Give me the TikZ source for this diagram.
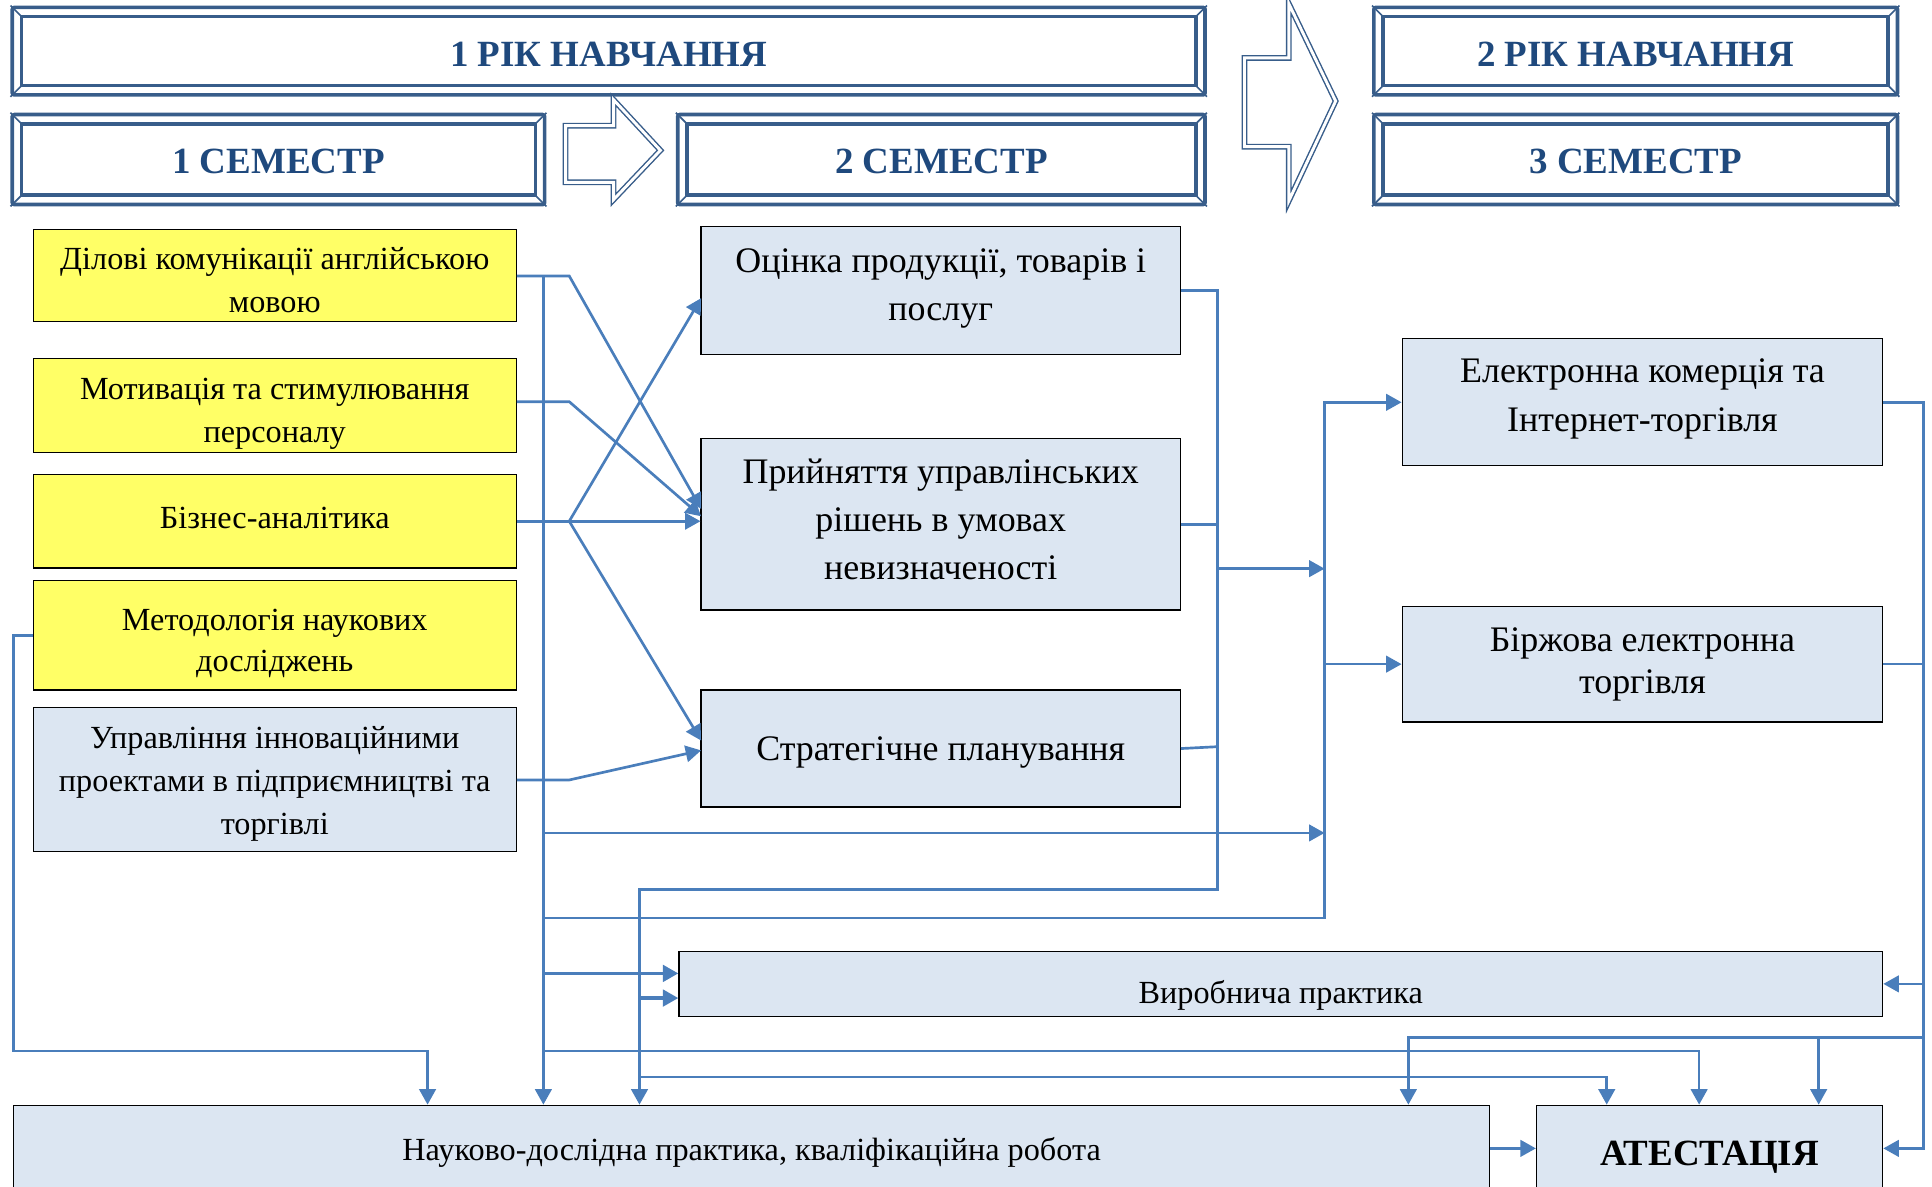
\documentclass[tikz,border=0pt]{standalone}
\usepackage{fontspec}
\setmainfont{Liberation Serif}
\usetikzlibrary{arrows.meta,calc}
\definecolor{hdrline}{RGB}{56,93,138}
\definecolor{hdrtext}{RGB}{31,73,125}
\definecolor{conncol}{RGB}{74,126,187}
\definecolor{yel}{RGB}{255,255,102}
\definecolor{lblue}{RGB}{220,230,242}
\newlength\myraise
% name, x1, y1, x2, y2, style, text, downward text offset (display px)
\newcommand\mkbox[8]{%
  \pgfmathsetlength{\myraise}{-0.6*(#8)*1pt}%
  \node[#6, minimum width={(#4-#2)*0.6pt}, minimum height={(#5-#3)*0.6pt}] (#1) at ({(#2+#4)/2},{(#3+#5)/2})
    {\raisebox{\myraise}[\height][\depth]{\begin{tabular}{@{}c@{}}#7\end{tabular}}};}
\tikzset{
  x=0.6pt, y=-0.6pt,
  hdr/.style={draw=hdrline, line width=1.8pt, text=hdrtext, font=\fontsize{18}{20}\selectfont\bfseries, inner sep=0pt, rounded corners=1pt},
  ybox/.style={draw=black, line width=0.6pt, fill=yel, inner sep=0pt, font=\fontsize{15.7}{21}\selectfont},
  bbox/.style={ybox, fill=lblue},
  mbox/.style={bbox, font=\fontsize{17.5}{23.4}\selectfont},
  conn/.style={draw=conncol, line width=1.3pt},
  arr/.style={conn, -{Triangle[length=7.5pt,width=8pt]}},
  blockarrow/.style={draw=hdrline, double=white, double distance=1.4pt, line width=0.7pt, line join=miter},
}
\begin{document}
\begin{tikzpicture}
\useasboundingbox (0,0) rectangle (1568,963);
\clip (0,0) rectangle (1568,963);
% headers
\mkbox{y1}{10}{6}{978}{77}{hdr}{1 РІК НАВЧАННЯ}{6}
\mkbox{s1}{10}{93}{442}{166}{hdr}{1 СЕМЕСТР}{5}
\mkbox{s2}{550}{93}{978}{166}{hdr}{2 СЕМЕСТР}{5}
\mkbox{y2}{1115}{6}{1540}{77}{hdr}{2 РІК НАВЧАННЯ}{6}
\mkbox{s3}{1115}{93}{1540}{166}{hdr}{3 СЕМЕСТР}{5}
\foreach \n in {y1,s1,s2,y2,s3}{
  \draw[draw=hdrline, line width=1.8pt] ([shift={(9,9)}]\n.north west) rectangle ([shift={(-9,-9)}]\n.south east);
  \draw[draw=hdrline, line width=0.8pt] (\n.north west) -- ++(9,9);
  \draw[draw=hdrline, line width=0.8pt] (\n.north east) -- ++(-9,9);
  \draw[draw=hdrline, line width=0.8pt] (\n.south west) -- ++(9,-9);
  \draw[draw=hdrline, line width=0.8pt] (\n.south east) -- ++(-9,-9);
}
% block arrows
\draw[blockarrow] (459,102) -- (498,102) -- (498,81) -- (536,122) -- (498,162) -- (498,148) -- (459,148) -- cycle;
\draw[blockarrow] (1010,47) -- (1046,47) -- (1046,3) -- (1084,82) -- (1046,163) -- (1046,119) -- (1010,119) -- cycle;
% left column
\mkbox{a1}{27}{186}{419}{261}{ybox}{Ділові комунікації англійською\\мовою}{6}
\mkbox{a2}{27}{291}{419}{367}{ybox}{Мотивація та стимулювання\\персоналу}{6}
\mkbox{a3}{27}{385}{419}{461}{ybox}{Бізнес-аналітика}{-1}
\mkbox{a4}{27}{471}{419}{560}{ybox}{Методологія наукових\\[-1pt]досліджень}{6}
\mkbox{a5}{27}{574}{419}{691}{bbox}{Управління інноваційними\\проектами в підприємництві та\\торгівлі}{3}
% middle column
\mkbox{b1}{569}{184}{958}{288}{mbox}{Оцінка продукції, товарів і\\послуг}{-3}
\mkbox{b2}{569}{356}{958}{495}{mbox}{Прийняття управлінських\\рішень в умовах\\невизначеності}{-2}
\mkbox{b3}{569}{560}{958}{655}{mbox}{Стратегічне планування}{2}
% right column
\mkbox{c1}{1138}{275}{1528}{378}{mbox}{Електронна комерція та\\Інтернет-торгівля}{-4}
\mkbox{c2}{1138}{492}{1528}{586}{mbox}{Біржова електронна\\[-3pt]торгівля}{-1}
% bottom
\mkbox{vp}{551}{772}{1528}{825}{bbox}{Виробнича практика}{9}
\mkbox{nd}{11}{897}{1209}{967}{bbox}{Науково-дослідна практика, кваліфікаційна робота}{3}
\mkbox{at}{1247}{897}{1528}{967}{bbox, font=\fontsize{18}{20}\selectfont\bfseries}{АТЕСТАЦІЯ}{7}
% left column -> middle
\coordinate (k1) at (462,224);
\coordinate (k2) at (462,326);
\coordinate (k3) at (462,423);
\coordinate (k5) at (462,633);
\coordinate (t1) at (569,413);
\coordinate (t2) at (569,419);
\coordinate (t4) at (569,242);
\coordinate (t5) at (569,601);
\coordinate (t6) at (569,609);
\draw[arr] (a1.east |- k1) -- (k1) -- (t1);
\draw[arr] (a2.east |- k2) -- (k2) -- (t2);
\draw[arr] (a3.east |- k3) -- (b2.west |- k3);
\draw[arr] (k3) -- (t4);
\draw[arr] (k3) -- (t5);
\draw[arr] (a5.east |- k5) -- (k5) -- (t6);
% left bus
\coordinate (L0) at (441,224);
\draw[arr] (L0) -- (nd.north -| L0);
\coordinate (L1) at (441,676);
\coordinate (R1) at (1075,676);
\draw[arr] (L1) -- (R1);
\coordinate (L2) at (441,745);
\coordinate (R2) at (1075,745);
\draw[arr] (L2) -- (R2) -- (R2 |- c1.west) -- (c1.west);
\draw[arr] (R2 |- c2.west) -- (c2.west);
\coordinate (L3) at (441,790);
\draw[arr, line width=1.7pt] (L3) -- (vp.west |- L3);
\coordinate (L4) at (441,853);
\coordinate (A1) at (1379,853);
\draw[arr] (L4) -- (A1) -- (at.north -| A1);
% second semester bus
\coordinate (M0) at (988,236);
\coordinate (M1) at (988,722);
\coordinate (N0) at (519,722);
\draw[arr] (b1.east) -- (b1.east -| M0) -- (M1) -- (N0) -- (nd.north -| N0);
\draw[conn] (b2.east) -- (b2.east -| M0);
\coordinate (M3) at (988,606);
\draw[conn] (b3.east) -- (M3);
\coordinate (M2) at (988,461.5);
\draw[arr] (M2) -- (M2 -| R2);
\coordinate (N1) at (519,810);
\draw[arr, line width=1.7pt] (N1) -- (vp.west |- N1);
\coordinate (N2) at (519,874);
\coordinate (A2) at (1304,874);
\draw[arr] (N2) -- (A2) -- (at.north -| A2);
% right bus
\coordinate (Q2) at (1561,932);
\draw[arr] (c1.east) -- (c1.east -| Q2) -- (Q2) -- (at.east);
\draw[conn] (c2.east) -- (c2.east -| Q2);
\draw[arr] (vp.east -| Q2) -- (vp.east);
\coordinate (Q1) at (1561,842);
\coordinate (P1) at (1143,842);
\draw[arr] (Q1) -- (P1) -- (nd.north -| P1);
\coordinate (P2) at (1476,842);
\draw[arr] (P2) -- (at.north -| P2);
% methodology loop
\coordinate (W1) at (11,853);
\coordinate (W2) at (347,853);
\draw[arr] (a4.west) -- (a4.west -| W1) -- (W1) -- (W2) -- (nd.north -| W2);
% research -> attestation
\draw[arr] (nd.east) -- (at.west);
\end{tikzpicture}
\end{document}
